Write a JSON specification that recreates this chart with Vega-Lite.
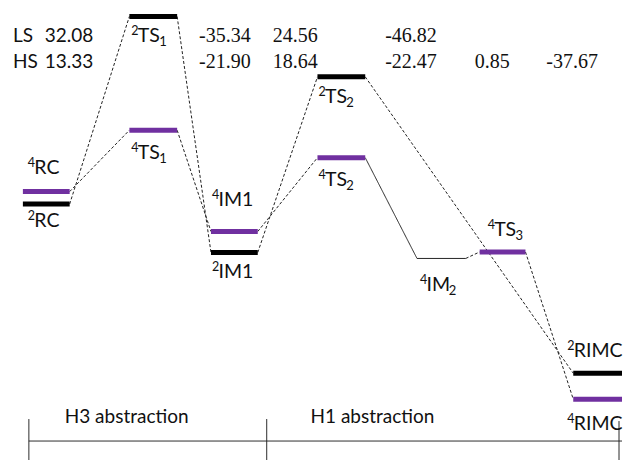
{
  "$schema": "https://vega.github.io/schema/vega-lite/v6.json",
  "width": 625,
  "height": 461,
  "padding": 0,
  "autosize": {"type": "fit", "contains": "padding"},
  "config": {"view": {"stroke": null}},
  "datasets": {
    "levels": [
      {"name": "2RC", "spin": "LS", "x1": 23, "x2": 70, "e": 204.5},
      {"name": "4RC", "spin": "HS", "x1": 23, "x2": 70, "e": 192},
      {"name": "2TS1", "spin": "LS", "x1": 130, "x2": 178, "e": 16.5},
      {"name": "4TS1", "spin": "HS", "x1": 130, "x2": 178, "e": 130.5},
      {"name": "2IM1", "spin": "LS", "x1": 212, "x2": 259, "e": 253},
      {"name": "4IM1", "spin": "HS", "x1": 212, "x2": 259, "e": 232},
      {"name": "2TS2", "spin": "LS", "x1": 319, "x2": 367, "e": 77},
      {"name": "4TS2", "spin": "HS", "x1": 319, "x2": 367, "e": 158},
      {"name": "4TS3", "spin": "HS", "x1": 482, "x2": 528, "e": 252.5},
      {"name": "2RIMC", "spin": "LS", "x1": 576, "x2": 625, "e": 374},
      {"name": "4RIMC", "spin": "HS", "x1": 576, "x2": 625, "e": 400}
    ],
    "links": [
      {"x1": 70, "e1": 204.5, "x2": 130, "e2": 16.5, "style": "dashed"},
      {"x1": 178, "e1": 16.5, "x2": 212, "e2": 253, "style": "dashed"},
      {"x1": 259, "e1": 253, "x2": 319, "e2": 77, "style": "dashed"},
      {"x1": 367, "e1": 77, "x2": 576, "e2": 374, "style": "dashed"},
      {"x1": 70, "e1": 192, "x2": 130, "e2": 130.5, "style": "dashed"},
      {"x1": 178, "e1": 130.5, "x2": 212, "e2": 232, "style": "dashed"},
      {"x1": 259, "e1": 232, "x2": 319, "e2": 158, "style": "dashed"},
      {"x1": 367, "e1": 158, "x2": 419, "e2": 259, "style": "solid"},
      {"x1": 419, "e1": 259, "x2": 468, "e2": 259, "style": "solid"},
      {"x1": 468, "e1": 259, "x2": 482, "e2": 252.5, "style": "dashed"},
      {"x1": 528, "e1": 252.5, "x2": 576, "e2": 400, "style": "dashed"},
      {"x1": 29, "e1": 442, "x2": 625, "e2": 442, "style": "solid"},
      {"x1": 29, "e1": 420, "x2": 29, "e2": 461, "style": "solid"},
      {"x1": 268, "e1": 420, "x2": 268, "e2": 461, "style": "solid"},
      {"x1": 622, "e1": 422, "x2": 622, "e2": 461, "style": "solid"}
    ],
    "names": [
      {"sup": "4", "main": "RC", "sub": "", "x": 28, "xs": 60, "e": 168},
      {"sup": "2", "main": "RC", "sub": "", "x": 28, "xs": 60, "e": 221},
      {"sup": "2", "main": "TS", "sub": "1", "x": 132, "xs": 160, "e": 36},
      {"sup": "4", "main": "TS", "sub": "1", "x": 132, "xs": 160, "e": 153},
      {"sup": "4", "main": "IM1", "sub": "", "x": 213, "xs": 250, "e": 200},
      {"sup": "2", "main": "IM1", "sub": "", "x": 213, "xs": 250, "e": 273},
      {"sup": "2", "main": "TS", "sub": "2", "x": 320, "xs": 348, "e": 97},
      {"sup": "4", "main": "TS", "sub": "2", "x": 320, "xs": 348, "e": 180},
      {"sup": "4", "main": "IM", "sub": "2", "x": 422, "xs": 451, "e": 286},
      {"sup": "4", "main": "TS", "sub": "3", "x": 490, "xs": 518, "e": 230},
      {"sup": "2", "main": "RIMC", "sub": "", "x": 570, "xs": 620, "e": 352},
      {"sup": "4", "main": "RIMC", "sub": "", "x": 570, "xs": 620, "e": 425}
    ],
    "labels": [
      {"text": "H3 abstraction", "x": 65, "e": 418},
      {"text": "H1 abstraction", "x": 312, "e": 418},
      {"text": "LS", "x": 13, "e": 36},
      {"text": "HS", "x": 13, "e": 62},
      {"text": "32.08", "x": 45, "e": 36},
      {"text": "13.33", "x": 45, "e": 62}
    ],
    "numbers": [
      {"text": "-35.34", "x": 200, "e": 36},
      {"text": "-21.90", "x": 200, "e": 62},
      {"text": "24.56", "x": 274, "e": 36},
      {"text": "18.64", "x": 274, "e": 62},
      {"text": "-46.82", "x": 387, "e": 36},
      {"text": "-22.47", "x": 387, "e": 62},
      {"text": "0.85", "x": 477, "e": 62},
      {"text": "-37.67", "x": 549, "e": 62}
    ]
  },
  "layer": [
    {
      "data": {"name": "links"},
      "mark": {"type": "rule", "strokeWidth": 1, "color": "#222222"},
      "encoding": {
        "x": {"field": "x1", "type": "quantitative", "scale": {"domain": [0, 625]}, "axis": null},
        "x2": {"field": "x2"},
        "y": {"field": "e1", "type": "quantitative", "scale": {"domain": [461, 0]}, "axis": null},
        "y2": {"field": "e2"},
        "strokeDash": {"field": "style", "type": "nominal", "scale": {"domain": ["dashed", "solid"], "range": [[3, 2], [1, 0]]}, "legend": null}
      }
    },
    {
      "data": {"name": "levels"},
      "mark": {"type": "rule", "strokeWidth": 5, "strokeCap": "butt"},
      "encoding": {
        "x": {"field": "x1", "type": "quantitative", "scale": {"domain": [0, 625]}, "axis": null},
        "x2": {"field": "x2"},
        "y": {"field": "e", "type": "quantitative", "scale": {"domain": [461, 0]}, "axis": null},
        "color": {"field": "spin", "type": "nominal", "scale": {"domain": ["LS", "HS"], "range": ["#000000", "#7030A0"]}, "legend": null}
      }
    },
    {
      "data": {"name": "names"},
      "mark": {"type": "text", "font": "Lato", "fontSize": 12.5, "align": "left", "baseline": "middle", "dy": -5, "color": "#111111"},
      "encoding": {
        "x": {"field": "x", "type": "quantitative", "scale": {"domain": [0, 625]}, "axis": null},
        "y": {"field": "e", "type": "quantitative", "scale": {"domain": [461, 0]}, "axis": null},
        "text": {"field": "sup"}
      }
    },
    {
      "data": {"name": "names"},
      "mark": {"type": "text", "font": "Lato", "fontSize": 19.5, "align": "left", "baseline": "middle", "dx": 6.5, "color": "#111111"},
      "encoding": {
        "x": {"field": "x", "type": "quantitative", "scale": {"domain": [0, 625]}, "axis": null},
        "y": {"field": "e", "type": "quantitative", "scale": {"domain": [461, 0]}, "axis": null},
        "text": {"field": "main"}
      }
    },
    {
      "data": {"name": "names"},
      "mark": {"type": "text", "font": "Lato", "fontSize": 13, "align": "left", "baseline": "middle", "dy": 6, "color": "#111111"},
      "encoding": {
        "x": {"field": "xs", "type": "quantitative", "scale": {"domain": [0, 625]}, "axis": null},
        "y": {"field": "e", "type": "quantitative", "scale": {"domain": [461, 0]}, "axis": null},
        "text": {"field": "sub"}
      }
    },
    {
      "data": {"name": "labels"},
      "mark": {"type": "text", "font": "Lato", "fontSize": 19, "align": "left", "baseline": "middle", "color": "#111111"},
      "encoding": {
        "x": {"field": "x", "type": "quantitative", "scale": {"domain": [0, 625]}, "axis": null},
        "y": {"field": "e", "type": "quantitative", "scale": {"domain": [461, 0]}, "axis": null},
        "text": {"field": "text"}
      }
    },
    {
      "data": {"name": "numbers"},
      "mark": {"type": "text", "font": "Liberation Serif", "fontSize": 20, "align": "left", "baseline": "middle", "color": "#111111"},
      "encoding": {
        "x": {"field": "x", "type": "quantitative", "scale": {"domain": [0, 625]}, "axis": null},
        "y": {"field": "e", "type": "quantitative", "scale": {"domain": [461, 0]}, "axis": null},
        "text": {"field": "text"}
      }
    }
  ]
}
